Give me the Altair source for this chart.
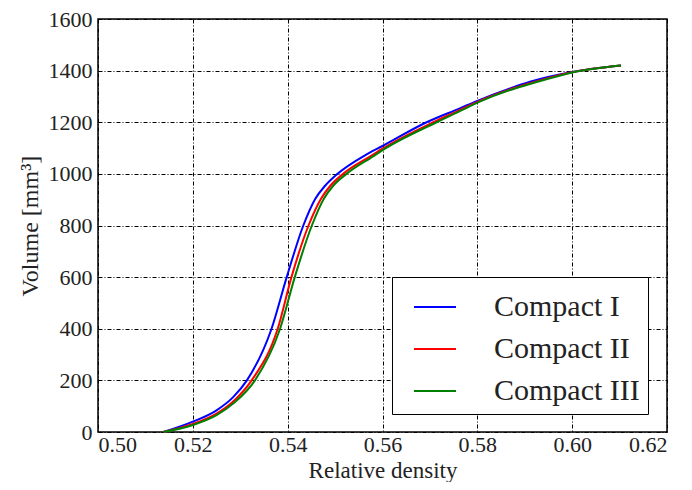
import altair as alt
import pandas as pd

series_names = ["Compact I", "Compact II", "Compact III"]
series_colors = ["#0000ff", "#ff0000", "#008000"]

density_1 = [0.5138, 0.5200, 0.5250, 0.5285, 0.5314, 0.5366, 0.5398, 0.5433, 0.5458, 0.5479, 0.5505, 0.5563, 0.5600, 0.5693, 0.5763, 0.5800, 0.5869, 0.5911, 0.6000, 0.6103]
volume_1 = [0, 40, 84, 135, 200, 400, 600, 800, 903, 954, 1000, 1072, 1108, 1200, 1254, 1283, 1331, 1357, 1395, 1420]

density_2 = [0.5138, 0.5200, 0.5250, 0.5285, 0.5324, 0.5379, 0.5408, 0.5444, 0.5470, 0.5490, 0.5517, 0.5575, 0.5600, 0.5707, 0.5763, 0.5800, 0.5869, 0.5911, 0.6000, 0.6103]
volume_2 = [0, 31, 71, 118, 200, 400, 600, 800, 903, 954, 1000, 1069, 1098, 1200, 1247, 1279, 1327, 1351, 1394, 1420]

density_3 = [0.5138, 0.5200, 0.5250, 0.5285, 0.5331, 0.5384, 0.5415, 0.5451, 0.5476, 0.5496, 0.5524, 0.5581, 0.5600, 0.5714, 0.5763, 0.5800, 0.5869, 0.5911, 0.6000, 0.6103]
volume_3 = [0, 27, 65, 110, 200, 400, 600, 800, 903, 954, 1000, 1069, 1092, 1200, 1243, 1276, 1325, 1348, 1393, 1420]

x_ticks = [0.50, 0.52, 0.54, 0.56, 0.58, 0.60, 0.62]
y_ticks = [0, 200, 400, 600, 800, 1000, 1200, 1400, 1600]

rows = []
for i, (name, xs, ys) in enumerate(zip(series_names, [density_1, density_2, density_3], [volume_1, volume_2, volume_3])):
    for x, y in zip(xs, ys):
        rows.append({"series": name, "order": i, "density": x, "volume": y})
df = pd.DataFrame(rows)

FONT = "Liberation Serif"
grid_dash = [4, 2, 1, 2]

chart = alt.Chart(df).mark_line(strokeWidth=2, interpolate="monotone").encode(
    x=alt.X("density:Q", scale=alt.Scale(domain=[0.50, 0.62], nice=False, zero=False),
            axis=alt.Axis(values=x_ticks, format=".2f", title="Relative density",
                          labelPadding=2, titleBaseline="alphabetic", titleY=45.5,
                          titleFontSize=23)),
    y=alt.Y("volume:Q", scale=alt.Scale(domain=[0, 1600], nice=False),
            axis=alt.Axis(values=y_ticks, format="d", title="Volume [mm³]",
                          labelPadding=6, titlePadding=6, titleFontSize=24)),
    color=alt.Color("series:N", scale=alt.Scale(domain=series_names, range=series_colors),
                    legend=alt.Legend(orient="none", legendX=294, legendY=258, title=None,
                                      symbolType="stroke", symbolSize=1764, symbolStrokeWidth=2,
                                      symbolOffset=13, labelOffset=37,
                                      labelFont=FONT, labelFontSize=30, labelColor="#222",
                                      strokeColor="black", fillColor="white", padding=8,
                                      rowPadding=5)),
    detail="order:O",
    order=alt.Order("order:Q"),
).properties(
    width=569, height=413,
    autosize=alt.AutoSizeParams(type="none"),
    padding={"left": 90, "top": 11, "right": 15, "bottom": 50},
).configure_view(
    stroke="black", strokeWidth=1.5
).configure_axis(
    grid=True, gridColor="black", gridOpacity=1, gridWidth=1, gridDash=grid_dash,
    domain=False, ticks=False,
    labelFont=FONT, labelFontSize=22, labelColor="#222",
    titleFont=FONT, titleFontWeight="normal", titleColor="#222",
)

chart.save("out.html", embed_options={"renderer": "svg", "actions": False})
